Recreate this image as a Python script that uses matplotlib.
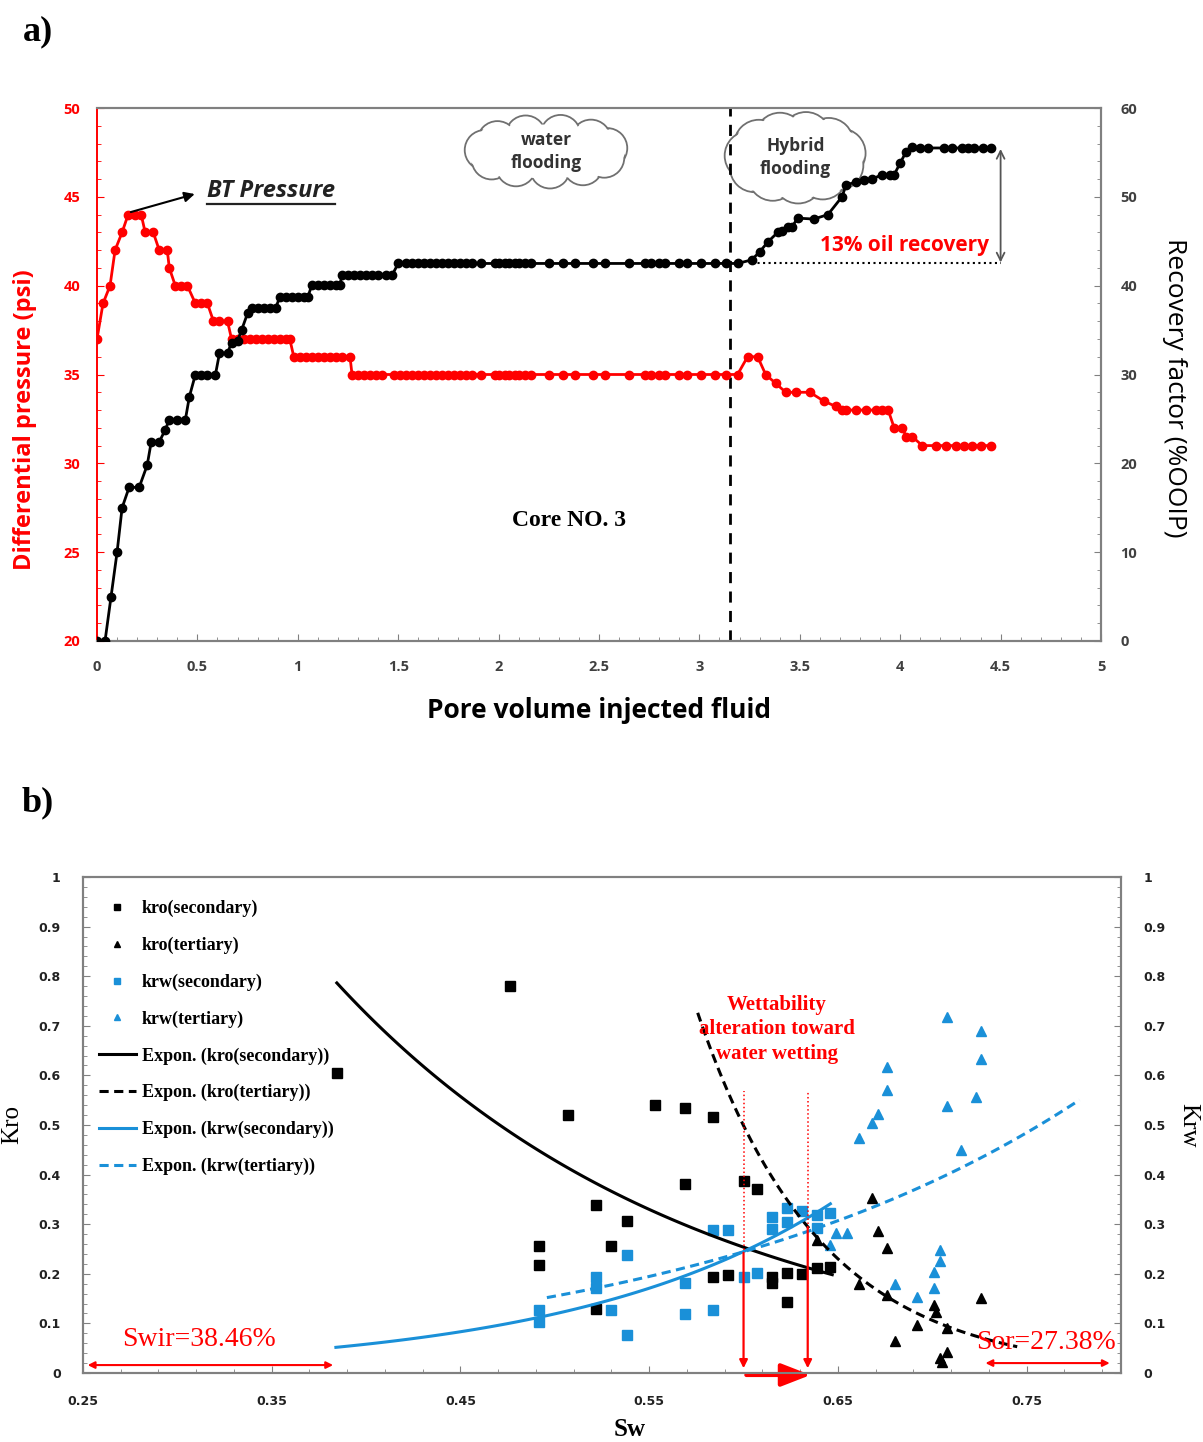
import numpy as np
import matplotlib.pyplot as plt
from matplotlib.patches import Circle, Ellipse
from matplotlib.ticker import MultipleLocator, FixedLocator, FuncFormatter
from matplotlib.font_manager import FontProperties

SANS = "Open Sans"
SERIF = "Liberation Serif"

# ---------------- panel a: core flooding history ----------------
pv_pressure = [0.00, 0.03, 0.065, 0.09, 0.125, 0.155, 0.19, 0.22, 0.24, 0.28,
               0.31, 0.35, 0.36, 0.39, 0.42, 0.45, 0.49, 0.52, 0.55, 0.58,
               0.61, 0.65, 0.67, 0.70, 0.73, 0.76, 0.79, 0.82, 0.85, 0.88,
               0.91, 0.94, 0.96, 0.98, 1.01, 1.04, 1.07, 1.10, 1.13, 1.16,
               1.19, 1.22, 1.26, 1.27, 1.30, 1.33, 1.36, 1.39, 1.42, 1.48,
               1.51, 1.54, 1.57, 1.60, 1.63, 1.66, 1.69, 1.72, 1.75, 1.78,
               1.81, 1.84, 1.87, 1.91, 1.98, 2.00, 2.03, 2.05, 2.08, 2.10,
               2.13, 2.16, 2.25, 2.32, 2.38, 2.47, 2.53, 2.65, 2.73, 2.76,
               2.80, 2.83, 2.90, 2.94, 3.01, 3.08, 3.13, 3.19, 3.24, 3.29,
               3.33, 3.38, 3.43, 3.48, 3.55, 3.62, 3.68, 3.71, 3.73, 3.78,
               3.83, 3.88, 3.91, 3.94, 3.97, 4.01, 4.03, 4.06, 4.11, 4.18,
               4.23, 4.28, 4.32, 4.36, 4.40, 4.45]
dp_psi = [37, 39, 40, 42, 43, 44, 44, 44, 43, 43,
          42, 42, 41, 40, 40, 40, 39, 39, 39, 38,
          38, 38, 37, 37, 37, 37, 37, 37, 37, 37,
          37, 37, 37, 36, 36, 36, 36, 36, 36, 36,
          36, 36, 36, 35, 35, 35, 35, 35, 35, 35,
          35, 35, 35, 35, 35, 35, 35, 35, 35, 35,
          35, 35, 35, 35, 35, 35, 35, 35, 35, 35,
          35, 35, 35, 35, 35, 35, 35, 35, 35, 35,
          35, 35, 35, 35, 35, 35, 35, 35, 36, 36,
          35, 34.5, 34, 34, 34, 33.5, 33.2, 33, 33, 33,
          33, 33, 33, 33, 32, 32, 31.5, 31.5, 31, 31,
          31, 31, 31, 31, 31, 31]

pv_recovery = [0.00, 0.04, 0.07, 0.10, 0.125, 0.16, 0.21, 0.25, 0.27, 0.31,
               0.34, 0.36, 0.40, 0.44, 0.46, 0.49, 0.52, 0.55, 0.59, 0.61,
               0.65, 0.67, 0.70, 0.72, 0.75, 0.77, 0.80, 0.83, 0.86, 0.89,
               0.91, 0.94, 0.97, 1.00, 1.03, 1.05, 1.07, 1.10, 1.13, 1.16,
               1.19, 1.21, 1.22, 1.25, 1.28, 1.31, 1.34, 1.37, 1.40, 1.44,
               1.47, 1.50, 1.54, 1.57, 1.60, 1.63, 1.66, 1.69, 1.72, 1.75,
               1.78, 1.81, 1.84, 1.87, 1.91, 1.98, 2.00, 2.03, 2.05, 2.08,
               2.10, 2.13, 2.16, 2.25, 2.32, 2.38, 2.47, 2.53, 2.65, 2.73,
               2.76, 2.80, 2.83, 2.90, 2.94, 3.01, 3.08, 3.13, 3.19, 3.26,
               3.30, 3.34, 3.39, 3.41, 3.44, 3.46, 3.49, 3.57, 3.64, 3.71,
               3.73, 3.78, 3.82, 3.86, 3.91, 3.95, 3.97, 4.00, 4.03, 4.06,
               4.10, 4.14, 4.22, 4.26, 4.31, 4.34, 4.37, 4.41, 4.45]
rf_ooip = [0, 0, 5, 10, 15, 17.3, 17.3, 19.8, 22.4, 22.4,
           23.8, 24.9, 24.9, 24.9, 27.5, 30, 30, 30, 30, 32.4,
           32.4, 33.6, 33.8, 35.0, 36.9, 37.5, 37.5, 37.5, 37.5, 37.5,
           38.7, 38.7, 38.7, 38.7, 38.7, 38.7, 40.1, 40.1, 40.1, 40.1,
           40.1, 40.1, 41.2, 41.2, 41.2, 41.2, 41.2, 41.2, 41.2, 41.2,
           41.2, 42.5, 42.5, 42.5, 42.5, 42.5, 42.5, 42.5, 42.5, 42.5,
           42.5, 42.5, 42.5, 42.5, 42.5, 42.5, 42.5, 42.5, 42.5, 42.5,
           42.5, 42.5, 42.5, 42.5, 42.5, 42.5, 42.5, 42.5, 42.5, 42.5,
           42.5, 42.5, 42.5, 42.5, 42.5, 42.5, 42.5, 42.5, 42.5, 42.9,
           43.8, 44.9, 46.0, 46.1, 46.6, 46.6, 47.6, 47.5, 48.0, 50.0,
           51.3, 51.7, 51.9, 52.0, 52.5, 52.5, 52.5, 53.8, 55.1, 55.6,
           55.5, 55.5, 55.5, 55.5, 55.5, 55.5, 55.5, 55.5, 55.5]

# ---------------- panel b: relative permeability ----------------
kro_sec_sw = [0.3845, 0.476, 0.507, 0.4915, 0.4915, 0.522, 0.530, 0.538, 0.522, 0.553,
              0.569, 0.584, 0.569, 0.600, 0.607, 0.584, 0.592, 0.615, 0.615, 0.623,
              0.631, 0.623, 0.639, 0.646]
kro_sec = [0.604, 0.780, 0.521, 0.257, 0.218, 0.339, 0.257, 0.307, 0.129, 0.541,
           0.535, 0.517, 0.382, 0.388, 0.370, 0.194, 0.198, 0.194, 0.182, 0.202,
           0.200, 0.143, 0.212, 0.214]

kro_ter_sw = [0.639, 0.668, 0.671, 0.676, 0.661, 0.676, 0.701, 0.702, 0.692, 0.680,
              0.708, 0.708, 0.704, 0.705, 0.726]
kro_ter = [0.269, 0.352, 0.287, 0.252, 0.180, 0.158, 0.137, 0.123, 0.097, 0.065,
           0.091, 0.042, 0.030, 0.022, 0.152]

krw_sec_sw = [0.538, 0.522, 0.522, 0.4915, 0.4915, 0.530, 0.538, 0.569, 0.569, 0.584,
              0.592, 0.584, 0.600, 0.607, 0.615, 0.615, 0.623, 0.623, 0.631, 0.639,
              0.639, 0.646]
krw_sec = [0.238, 0.194, 0.172, 0.127, 0.103, 0.127, 0.077, 0.182, 0.119, 0.289,
           0.289, 0.127, 0.194, 0.202, 0.315, 0.291, 0.333, 0.305, 0.327, 0.319,
           0.293, 0.323]

krw_ter_sw = [0.708, 0.726, 0.726, 0.723, 0.708, 0.676, 0.676, 0.671, 0.668, 0.661,
              0.715, 0.649, 0.655, 0.646, 0.704, 0.704, 0.701, 0.701, 0.680, 0.692]
krw_ter = [0.717, 0.689, 0.634, 0.556, 0.539, 0.616, 0.570, 0.523, 0.505, 0.473,
           0.449, 0.283, 0.283, 0.259, 0.247, 0.226, 0.204, 0.172, 0.180, 0.154]

# Excel "Expon." trendlines y = a*exp(b*Sw): (a, b, Sw from, Sw to)
fit_kro_sec = (5.92, -5.25, 0.3845, 0.647)
fit_kro_ter = (5326.0, -15.46, 0.5757, 0.745)
fit_krw_sec = (0.003258, 7.2, 0.384, 0.646)
fit_krw_ter = (0.01585, 4.56, 0.4958, 0.778)

BLUE = "#1a90d8"
GREY = "#808080"

W, H = 1203, 1442
fig = plt.figure(figsize=(W / 100, H / 100), dpi=100)


def frac(x0, y0, x1, y1):
    # pixel box (top-left origin) -> figure fraction rect
    return [x0 / W, 1 - y1 / H, (x1 - x0) / W, (y1 - y0) / H]


def draw_cloud(rect, label):
    cax = fig.add_axes(rect, zorder=-1)
    w = rect[2] * W
    h = rect[3] * H
    cax.set_xlim(0, w)
    cax.set_ylim(0, h)
    cax.axis("off")
    r = min(w, h) * 0.26
    rx = w / 2 - r - 1.5
    ry = h / 2 - r - 1.5
    ang = np.linspace(0, 2 * np.pi, 11, endpoint=False) + 0.2
    centers = [(w / 2 + rx * np.cos(t), h / 2 + ry * np.sin(t)) for t in ang]
    for c in centers:
        cax.add_patch(Circle(c, r, fc="white", ec="#707070", lw=1.3))
    for c in centers:
        cax.add_patch(Circle(c, r - 1.5, fc="white", ec="none"))
    cax.add_patch(Ellipse((w / 2, h / 2), 2 * rx + r, 2 * ry + r, fc="white", ec="none"))
    cax.text(w / 2, h / 2, label, ha="center", va="center", fontsize=12.5,
             fontweight="bold", color="#333333", family=SANS, linespacing=1.4)


def style_labels(axis_obj, family, size, weight="bold"):
    for lbl in axis_obj.get_ticklabels():
        lbl.set_family(family)
        lbl.set_fontsize(size)
        lbl.set_fontweight(weight)


fmt_g = FuncFormatter(lambda v, p: "%g" % round(v, 3))

# ====================== panel a ======================
draw_cloud(frac(463, 113, 630, 190), "water\nflooding")
draw_cloud(frac(723, 110, 868, 205), "Hybrid\nflooding")

ax = fig.add_axes(frac(97, 108, 1101, 641))
ax.patch.set_visible(False)
ax2 = ax.twinx()

ax.plot(pv_pressure, dp_psi, "-o", color="red", lw=2, ms=6, zorder=3)
ax2.plot(pv_recovery, rf_ooip, "-o", color="black", lw=2, ms=6, zorder=3)

ax.set_xlim(0, 5)
ax.set_ylim(20, 50)
ax2.set_ylim(0, 60)

ax.xaxis.set_major_locator(MultipleLocator(0.5))
ax.xaxis.set_minor_locator(MultipleLocator(0.1))
ax.yaxis.set_major_locator(MultipleLocator(5))
ax.yaxis.set_minor_locator(MultipleLocator(1))
ax2.yaxis.set_major_locator(MultipleLocator(10))
ax2.yaxis.set_minor_locator(MultipleLocator(2))
ax.xaxis.set_major_formatter(fmt_g)

ax.tick_params(axis="x", which="both", direction="in", color=GREY, labelcolor="#404040", pad=14)
ax.tick_params(axis="x", which="major", length=5)
ax.tick_params(axis="x", which="minor", length=3)
ax.tick_params(axis="y", which="both", direction="in", color="red", labelcolor="red", pad=12)
ax.tick_params(axis="y", which="major", length=5)
ax.tick_params(axis="y", which="minor", length=3)
ax2.tick_params(axis="y", which="both", direction="in", color=GREY, labelcolor="#404040", pad=14)
ax2.tick_params(axis="y", which="major", length=5)
ax2.tick_params(axis="y", which="minor", length=3)
style_labels(ax.xaxis, SANS, 10.5)
style_labels(ax.yaxis, SANS, 10.5)
style_labels(ax2.yaxis, SANS, 10.5)

for a_ in (ax, ax2):
    for side in ("top", "right", "bottom"):
        a_.spines[side].set_color(GREY)
        a_.spines[side].set_linewidth(1.5)
    a_.spines["left"].set_color("red")
    a_.spines["left"].set_linewidth(1.2)

ax.axvline(3.15, color="black", ls=(0, (4, 3)), lw=2, zorder=2)

ax.annotate("", xy=(0.50, 45.2), xytext=(0.155, 44.1),
            arrowprops=dict(arrowstyle="-|>", color="black", lw=1.5, mutation_scale=15))
bt = ax.text(0.55, 45.35, "BT Pressure", family=SANS, fontsize=17, fontweight="bold",
             fontstyle="italic", va="center", ha="left", color="#222222")
ax.text(2.35, 26.8, "Core NO. 3", family=SERIF, fontsize=17, fontweight="bold",
        ha="center", va="center")

ax2.plot([3.26, 4.50], [42.5, 42.5], ls=":", color="black", lw=1.5)
ax2.annotate("", xy=(4.50, 55.7), xytext=(4.50, 42.3),
             arrowprops=dict(arrowstyle="<->", color="#555555", lw=1.3, mutation_scale=14))
ax2.text(4.44, 44.5, "13% oil recovery", family=SANS, fontsize=15, fontweight="bold",
         color="red", ha="right", va="center")

fig.text(25 / W, 1 - 420 / H, "Differential pressure (psi)", rotation=90, ha="center",
         va="center", color="red", family=SANS, fontsize=17, fontweight="bold")
fig.text(1175 / W, 1 - 388 / H, "Recovery factor (%OOIP)", rotation=-90, ha="center",
         va="center", color="black", family=SANS, fontsize=19)
fig.text(599 / W, 1 - 711 / H, "Pore volume injected fluid", ha="center", va="center",
         family=SANS, fontsize=19, fontweight="bold")
fig.text(38 / W, 1 - 32 / H, "a)", ha="center", va="center", family=SERIF,
         fontsize=26, fontweight="bold")

# ====================== panel b ======================
bx = fig.add_axes(frac(83, 877, 1121, 1373))
bx.set_xlim(0.25, 0.80)
bx.set_ylim(0, 1)
bx2 = bx.twinx()
bx2.set_ylim(0, 1)

bx.plot(kro_sec_sw, kro_sec, "s", color="black", ms=6.5, ls="none", label="kro(secondary)")
bx.plot(kro_ter_sw, kro_ter, "^", color="black", ms=6.5, ls="none", label="kro(tertiary)")
bx.plot(krw_sec_sw, krw_sec, "s", color=BLUE, ms=6.5, ls="none", label="krw(secondary)")
bx.plot(krw_ter_sw, krw_ter, "^", color=BLUE, ms=6.5, ls="none", label="krw(tertiary)")

trend_specs = [
    (fit_kro_sec, "black", "-", "Expon. (kro(secondary))"),
    (fit_kro_ter, "black", (0, (3, 1.8)), "Expon. (kro(tertiary))"),
    (fit_krw_sec, BLUE, "-", "Expon. (krw(secondary))"),
    (fit_krw_ter, BLUE, (0, (3, 1.8)), "Expon. (krw(tertiary))"),
]
for (a, b, lo, hi), col, ls, lab in trend_specs:
    sw = np.linspace(lo, hi, 120)
    bx.plot(sw, a * np.exp(b * sw), color=col, ls=ls, lw=2.2, label=lab)

x_major = [0.25, 0.35, 0.45, 0.55, 0.65, 0.75]
bx.xaxis.set_major_locator(FixedLocator(x_major))
bx.xaxis.set_minor_locator(MultipleLocator(0.02, offset=0.25))
bx.xaxis.set_major_formatter(FuncFormatter(lambda v, p: "%.2f" % v))
for yax in (bx, bx2):
    yax.yaxis.set_major_locator(MultipleLocator(0.1))
    yax.yaxis.set_minor_locator(MultipleLocator(0.02))
    yax.yaxis.set_major_formatter(fmt_g)
    yax.tick_params(axis="both", which="both", direction="in", color=GREY,
                    labelcolor="#222222", pad=16)
    yax.tick_params(which="major", length=5)
    yax.tick_params(which="minor", length=3)
    for side in yax.spines:
        yax.spines[side].set_color(GREY)
        yax.spines[side].set_linewidth(1.5)
style_labels(bx.xaxis, "DejaVu Sans", 9)
style_labels(bx.yaxis, "DejaVu Sans", 9)
style_labels(bx2.yaxis, "DejaVu Sans", 9)

bx.legend(loc="upper left", bbox_to_anchor=(0.008, 0.968), frameon=False,
          prop=FontProperties(family=SERIF, weight="bold", size=13),
          handlelength=2.1, handletextpad=0.3, labelspacing=1.08,
          borderaxespad=0, markerscale=0.75)

# wettability shift markers
bx.plot([0.600, 0.600], [0.248, 0.568], color="red", ls=":", lw=1.1)
bx.plot([0.634, 0.634], [0.300, 0.568], color="red", ls=":", lw=1.1)
bx.annotate("", xy=(0.600, 0.004), xytext=(0.600, 0.248),
            arrowprops=dict(arrowstyle="-|>", color="red", lw=1.6, mutation_scale=12))
bx.annotate("", xy=(0.634, 0.004), xytext=(0.634, 0.300),
            arrowprops=dict(arrowstyle="-|>", color="red", lw=1.6, mutation_scale=12))
bx.annotate("", xy=(0.637, -0.004), xytext=(0.600, -0.004), annotation_clip=False,
            arrowprops=dict(arrowstyle="-|>,head_width=0.35,head_length=0.9",
                            color="red", lw=3.0, mutation_scale=20))
bx.text(0.6176, 0.693, "Wettability\nalteration toward\nwater wetting", color="red",
        family=SERIF, fontsize=15, fontweight="bold", ha="center", va="center",
        linespacing=1.3)

bx.annotate("", xy=(0.251, 0.016), xytext=(0.384, 0.016),
            arrowprops=dict(arrowstyle="<|-|>", color="red", lw=1.5, mutation_scale=10))
bx.text(0.3117, 0.068, "Swir=38.46%", color="red", family=SERIF, fontsize=20,
        ha="center", va="center")
bx.annotate("", xy=(0.7267, 0.020), xytext=(0.7955, 0.020),
            arrowprops=dict(arrowstyle="<|-|>", color="red", lw=1.5, mutation_scale=10))
bx.text(0.760, 0.061, "Sor=27.38%", color="red", family=SERIF, fontsize=20,
        ha="center", va="center")

fig.text(12 / W, 1 - 1125 / H, "Kro", rotation=90, ha="center", va="center",
         family=SERIF, fontsize=18)
fig.text(1188 / W, 1 - 1125 / H, "Krw", rotation=-90, ha="center", va="center",
         family=SERIF, fontsize=18)
fig.text(630 / W, 1 - 1430 / H, "Sw", ha="center", va="center", family=SERIF,
         fontsize=18, fontweight="bold")
fig.text(38 / W, 1 - 803 / H, "b)", ha="center", va="center", family=SERIF,
         fontsize=26, fontweight="bold")

# underline "BT Pressure"
fig.canvas.draw()
bb = bt.get_window_extent()
inv = ax.transData.inverted()
ux0, uy0 = inv.transform((bb.x0, bb.y0))
ux1, _ = inv.transform((bb.x1, bb.y0))
ax.plot([ux0, ux1], [uy0 - 0.1, uy0 - 0.1], color="#222222", lw=1.6)

fig.savefig("out.png", dpi=100)
